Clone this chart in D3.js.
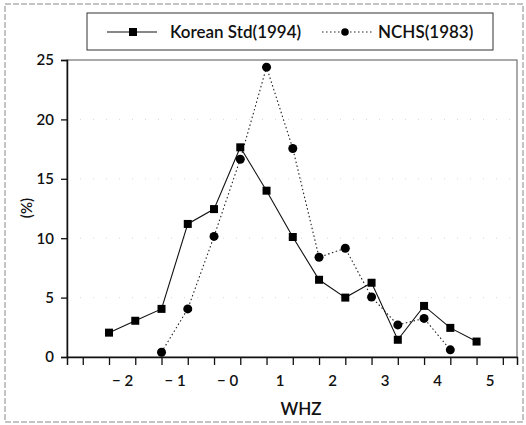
<!DOCTYPE html>
<html>
<head>
<meta charset="utf-8">
<script src="https://cdn.jsdelivr.net/npm/d3@7"></script>
<style>
  body { margin: 0; background: #fff; }
  svg { display: block; font-family: Lato, "Open Sans", sans-serif; }
</style>
</head>
<body>
<div id="chart"></div>
<script>
const width = 526;
const height = 425;

// data
const whz = [-2.25, -1.75, -1.25, -0.75, -0.25, 0.25, 0.75, 1.25, 1.75, 2.25, 2.75, 3.25, 3.75, 4.25, 4.75];
const korean = [2.05, 3.05, 4.05, 11.2, 12.45, 17.65, 14.0, 10.1, 6.5, 5.0, 6.25, 1.45, 4.3, 2.45, 1.3];
const nchsWhz = [-1.25, -0.75, -0.25, 0.25, 0.75, 1.25, 1.75, 2.25, 2.75, 3.25, 3.75, 4.25];
const nchs = [0.4, 4.05, 10.15, 16.65, 24.4, 17.55, 8.4, 9.15, 5.05, 2.7, 3.25, 0.6];
const xTicks = [-2.75, -2.25, -1.75, -1.25, -0.75, -0.25, 0.25, 0.75, 1.25, 1.75, 2.25, 2.75, 3.25, 3.75, 4.25, 4.75, 5.25];
const xLabelVals = [-2, -1, 0, 1, 2, 3, 4, 5];
const xLabels = ["\u2212 2", "\u2212 1", "\u2212 0", "1", "2", "3", "4", "5"];
const yTicks = [0, 5, 10, 15, 20, 25];

const svg = d3.select("#chart").append("svg")
    .attr("width", width)
    .attr("height", height);

// scanned-page frame
svg.append("rect")
    .attr("x", 5).attr("y", 4)
    .attr("width", 518).attr("height", 418)
    .attr("fill", "none")
    .attr("stroke", "#888")
    .attr("stroke-dasharray", "6,2");

const x = d3.scaleLinear().domain([-3.05, 5.52]).range([67, 517]);
const y = d3.scaleLinear().domain([0, 25]).range([357, 60]);

// faint grid
svg.append("g").selectAll("line")
    .data([5, 10, 15, 20])
    .enter().append("line")
    .attr("x1", x.range()[0]).attr("x2", x.range()[1])
    .attr("y1", d => y(d)).attr("y2", d => y(d))
    .attr("stroke", "#ccc")
    .attr("stroke-width", 0.8)
    .attr("stroke-dasharray", "1,12");

// plot box
svg.append("rect")
    .attr("x", 67).attr("y", 60)
    .attr("width", 450).attr("height", 297)
    .attr("fill", "none")
    .attr("stroke", "#555")
    .attr("stroke-width", 1);

const xAxis = d3.axisBottom(x).tickValues(xTicks).tickSize(8).tickFormat("");
svg.append("g")
    .attr("transform", "translate(0," + y(0) + ")")
    .call(xAxis)
    .call(g => g.select(".domain").attr("stroke", "#111").attr("stroke-width", 1.5))
    .call(g => g.selectAll(".tick line").attr("stroke", "#111").attr("stroke-width", 1.3));

const xLab = d3.axisBottom(x).tickValues(xLabelVals).tickSize(0)
    .tickFormat((d, i) => xLabels[i]);
svg.append("g")
    .attr("transform", "translate(0," + y(0) + ")")
    .call(xLab)
    .call(g => g.select(".domain").remove())
    .call(g => g.selectAll("text")
        .attr("y", 29)
        .attr("dy", 0)
        .attr("fill", "#111")
        .style("font-size", "15px")
        .style("font-weight", "600")
        .style("font-family", "Lato, sans-serif"));

const yAxis = d3.axisLeft(y).tickValues(yTicks).tickSize(6);
svg.append("g")
    .attr("transform", "translate(67,0)")
    .call(yAxis)
    .call(g => g.select(".domain").attr("stroke", "#111").attr("stroke-width", 1.5))
    .call(g => g.selectAll(".tick line").attr("stroke", "#111").attr("stroke-width", 1.3))
    .call(g => g.selectAll("text")
        .attr("x", -13)
        .attr("fill", "#111")
        .style("font-size", "15px")
        .style("font-weight", "600")
        .style("font-family", "Lato, sans-serif"));

svg.append("text")
    .attr("transform", "translate(32,208) rotate(-90)")
    .attr("text-anchor", "middle")
    .attr("fill", "#111")
    .style("font-size", "15px")
    .style("font-weight", "600")
    .text("(%)");

svg.append("text")
    .attr("x", 301).attr("y", 415)
    .attr("text-anchor", "middle")
    .attr("fill", "#111")
    .style("font-size", "17px")
    .style("font-weight", "600")
    .text("WHZ");

const line = d3.line()
    .x(d => x(d[0]))
    .y(d => y(d[1]));

const korPts = whz.map((w, i) => [w, korean[i]]);
const nchsPts = nchsWhz.map((w, i) => [w, nchs[i]]);

svg.append("path")
    .attr("d", line(nchsPts))
    .attr("fill", "none")
    .attr("stroke", "#222")
    .attr("stroke-width", 1.1)
    .attr("stroke-dasharray", "1.5,2.5");

svg.append("path")
    .attr("d", line(korPts))
    .attr("fill", "none")
    .attr("stroke", "#111")
    .attr("stroke-width", 1.1);

svg.append("g").selectAll("circle")
    .data(nchsPts)
    .enter().append("circle")
    .attr("cx", d => x(d[0]))
    .attr("cy", d => y(d[1]))
    .attr("r", 4.5)
    .attr("fill", "#000");

svg.append("g").selectAll("rect")
    .data(korPts)
    .enter().append("rect")
    .attr("x", d => x(d[0]) - 4)
    .attr("y", d => y(d[1]) - 4)
    .attr("width", 8)
    .attr("height", 8)
    .attr("fill", "#000");

// legend
const leg = svg.append("g");
leg.append("rect")
    .attr("x", 87).attr("y", 13)
    .attr("width", 406).attr("height", 37)
    .attr("fill", "#fff")
    .attr("stroke", "#333")
    .attr("stroke-width", 1);
leg.append("line")
    .attr("x1", 107).attr("x2", 157).attr("y1", 32).attr("y2", 32)
    .attr("stroke", "#111").attr("stroke-width", 1.1);
leg.append("rect")
    .attr("x", 129).attr("y", 28).attr("width", 8).attr("height", 8)
    .attr("fill", "#000");
leg.append("text")
    .attr("x", 170).attr("y", 38)
    .attr("fill", "#111")
    .style("font-size", "17px")
    .style("font-weight", "600")
    .text("Korean Std(1994)");
leg.append("line")
    .attr("x1", 322).attr("x2", 373).attr("y1", 32).attr("y2", 32)
    .attr("stroke", "#222").attr("stroke-width", 1.1)
    .attr("stroke-dasharray", "1.5,2.5");
leg.append("circle")
    .attr("cx", 345).attr("cy", 32).attr("r", 3.8)
    .attr("fill", "#000");
leg.append("text")
    .attr("x", 378).attr("y", 38)
    .attr("fill", "#111")
    .style("font-size", "17px")
    .style("font-weight", "600")
    .text("NCHS(1983)");
</script>
</body>
</html>
